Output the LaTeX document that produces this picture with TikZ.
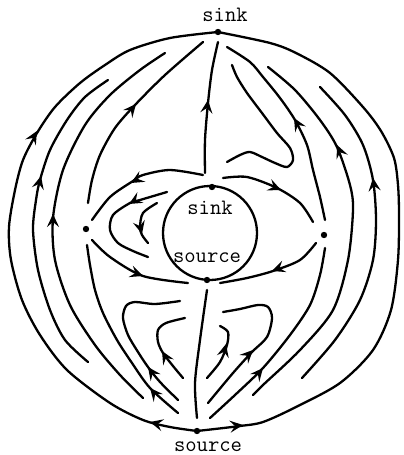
\documentclass[tikz,border=0pt]{standalone}
\usetikzlibrary{arrows.meta}

\tikzset{
    flow/.style={line width=1.15pt, line cap=round, line join=round},
    arrowhd/.style={line width=1pt, -{Stealth[length=6.5pt,width=6pt,inset=2.5pt]}},
    fixpt/.style={circle, fill, inner sep=0pt, minimum size=3.2pt},
    lbl/.style={font=\ttfamily\fontsize{11}{13}\selectfont, inner sep=0pt},
}

\begin{document}
\begin{tikzpicture}[x=0.5pt, y=-0.5pt]
    \useasboundingbox (0,0) rectangle (403,455);

    % =================================================================
    % CAC DIEM DUNG
    % =================================================================
    \coordinate (sinkO) at (218,32);   % dinh vong ngoai
    \coordinate (srcO) at (197,431);   % day vong ngoai
    \coordinate (sinkI) at (212,187);  % dinh vong trong
    \coordinate (srcI) at (207,280);   % day vong trong
    \coordinate (sadL) at (86,229);    % diem yen trai
    \coordinate (sadR) at (324,235);   % diem yen phai

    % Vong tron trong
    \draw[flow] (210,233) circle[radius=47];

    % =================================================================
    % VONG NGOAI: tu source len sink
    % =================================================================
    \draw[flow] plot[smooth] coordinates {(srcO) (170,427) (143,420)
        (110,403) (67,370) (40,335) (22,300) (11,260) (9,227) (15,190) (23,160) (37,133)
        (55,107) (80,83) (105,65) (130,50) (170,38) (sinkO)};
    \draw[flow] plot[smooth] coordinates {(srcO) (240,426) (263,422) (296,407)
        (340,383) (373,350) (391,310) (398,260) (399,215) (398,185) (394,158) (381,131)
        (363,107) (330,73) (296,53) (270,43) (sinkO)};

    % =================================================================
    % BEN TRAI
    % =================================================================
    \draw[flow] plot[smooth] coordinates {(88,362) (65,340) (50,310) (38,270)
        (33,230) (36,200) (40,180) (50,150) (67,120) (85,97) (108,80)};
    \draw[flow] plot[smooth] coordinates {(143,398) (120,375) (95,345) (70,305)
        (55,260) (53,218) (63,170) (85,125) (110,95) (140,70) (165,53)};
    \draw[flow] plot[smooth] coordinates {(88,203) (92,180) (100,155) (115,128)
        (135,105) (165,75) (203,42)};
    \draw[flow] plot[smooth] coordinates {(178,413) (150,388) (132,363) (117,340)
        (103,313) (95,290) (90,265) (87,245)};
    \draw[flow] plot[smooth] coordinates {(178,400) (160,382) (148,367) (138,352)
        (128,335) (123,318) (126,306) (135,302) (155,304) (180,301)};
    \draw[flow] plot[smooth] coordinates {(183,378) (173,366) (163,353) (158,342)
        (158,330) (166,323) (185,318)};

    % Duong giua
    \draw[flow] plot[smooth] coordinates {(197,418) (195,383) (200,340) (207,290)};
    \draw[flow] plot[smooth] coordinates {(205,173) (205,140) (208,103) (212,70)
        (218,42)};

    % =================================================================
    % BEN PHAI
    % =================================================================
    \draw[flow] plot[smooth] coordinates {(208,403) (233,373) (252,352) (267,337)
        (272,318) (268,307) (258,305) (240,309) (223,312)};
    \draw[flow] plot[smooth] coordinates {(207,378) (220,362) (227,345) (228,332)
        (220,326)};
    \draw[flow] plot[smooth] coordinates {(210,418) (235,395) (263,368) (290,335)
        (310,305) (320,275) (325,248)};
    \draw[flow] plot[smooth] coordinates {(253,395) (263,385) (300,350) (333,310)
        (348,260) (353,210) (350,185) (337,147) (320,120) (295,90) (268,67)};
    \draw[flow] plot[smooth] coordinates {(302,378) (335,340) (360,300) (373,260)
        (376,220) (373,180) (363,145) (345,115) (320,87)};
    \draw[flow] plot[smooth] coordinates {(325,220) (320,197) (313,170) (307,145)
        (295,120) (280,98) (263,77) (250,62) (227,47)};
    \draw[flow] plot[smooth] coordinates {(227,162) (240,155) (250,152) (262,157) (275,163)
        (287,167) (293,160) (290,148) (277,133) (262,113) (247,93) (237,77) (232,65)};

    % =================================================================
    % QUANH VONG TRONG
    % =================================================================
    \draw[flow] plot[smooth] coordinates {(203,175) (170,170) (143,175) (133,181)
        (110,197) (92,220)};
    \draw[flow] plot[smooth] coordinates {(223,178) (247,177) (277,188) (300,203)
        (313,222)};
    \draw[flow] plot[smooth] coordinates {(167,192) (140,200) (130,203) (113,215)
        (110,230) (118,243) (133,251) (148,257)};
    \draw[flow] plot[smooth] coordinates {(157,203) (143,213) (140,227) (142,235)
        (148,243)};
    \draw[flow] plot[smooth] coordinates {(92,240) (110,257) (143,276) (188,283)};
    \draw[flow] plot[smooth] coordinates {(316,243) (300,260) (273,271) (247,278)
        (220,283)};

    % Mui ten chi huong (diem sau / dinh mui)
    \foreach \bx/\by/\tx/\ty in {158/424/150/422, 33/138/37/131, 235/426/243/425,
        39/184/41/176, 53/222/53/214, 131/110/136/104, 155/394/150/388,
        153/374/148/367, 166/358/162/351, 207/108/208/100, 247/356/253/350,
        224/352/226/344, 258/374/263/368, 340/152/337/145, 374/186/373/178,
        298/125/294/118, 138/179/131/183, 274/187/281/190, 136/200/129/204,
        140/226/142/234, 135/273/143/276, 280/268/272/271}
        \draw[arrowhd] (\bx,\by) -- (\tx,\ty);

    % Cac diem dung
    \foreach \p in {sinkO, srcO, sinkI, srcI, sadL, sadR}
        \node[fixpt] (dot-\p) at (\p) {};

    % Nhan
    \node[lbl] (lsinkO) at (225,15) {sink};
    \node[lbl] (lsrcO) at (208,447) {source};
    \node[lbl] (lsinkI) at (210,208) {sink};
    \node[lbl] (lsrcI) at (207,258) {source};

\end{tikzpicture}
\end{document}
